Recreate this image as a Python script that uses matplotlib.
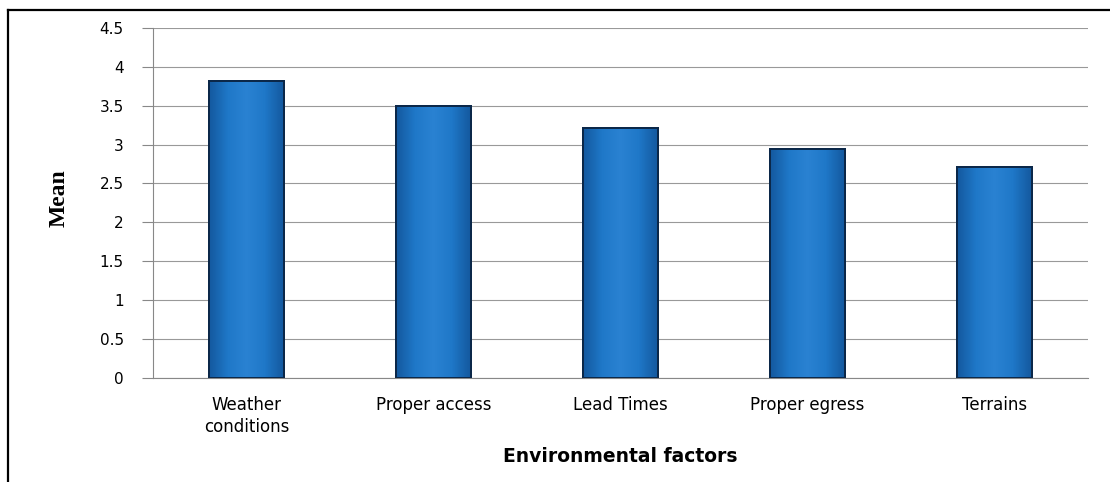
import matplotlib
matplotlib.use("Agg")
import matplotlib.pyplot as plt
import numpy as np
from matplotlib.lines import Line2D
from matplotlib.colors import LinearSegmentedColormap

categories = ["Weather\nconditions", "Proper access", "Lead Times", "Proper egress", "Terrains"]
means = [3.82, 3.50, 3.21, 2.94, 2.71]
yticks = [0, 0.5, 1, 1.5, 2, 2.5, 3, 3.5, 4, 4.5]
ytick_labels = ["0", "0.5", "1", "1.5", "2", "2.5", "3", "3.5", "4", "4.5"]

fig = plt.figure(figsize=(11.1, 4.82), dpi=100)
ax = fig.add_axes([0.1378, 0.2168, 0.8423, 0.7251])

x = np.arange(len(categories))
bars = ax.bar(x, means, width=0.40, color="#1e74c4", edgecolor="#0b2748", linewidth=1.4, zorder=3)

# horizontal shading inside each bar (dark edges, lighter centre)
cmap = LinearSegmentedColormap.from_list("barshade", ["#14599f", "#1f78c8", "#2a82d2", "#1f78c8", "#14599f"])
grad = np.linspace(0, 1, 64).reshape(1, -1)
for b in bars:
    x0, y0 = b.get_x(), b.get_y()
    w, h = b.get_width(), b.get_height()
    im = ax.imshow(grad, cmap=cmap, aspect="auto", extent=(x0, x0 + w, y0, y0 + h), zorder=3.5)
    im.set_clip_path(b)
    ax.bar(b.get_x() + w / 2, h, width=w, fill=False, edgecolor="#0b2748", linewidth=1.4, zorder=4)

ax.set_ylim(0, 4.5)
ax.set_xlim(-0.5, len(categories) - 0.5)
ax.set_yticks(yticks)
ax.set_yticklabels(ytick_labels, fontsize=11, family="DejaVu Sans")
ax.set_xticks(list(x))
ax.set_xticklabels(categories, fontsize=12, family="DejaVu Sans", linespacing=1.3)
ax.tick_params(axis="y", length=8, color="#888888", width=0.8, pad=13)
ax.tick_params(axis="x", length=0, pad=13)
ax.yaxis.grid(True, color="#999999", linewidth=0.8, zorder=0)
ax.set_axisbelow(True)
for s in ["top", "right"]:
    ax.spines[s].set_visible(False)
for s in ["left", "bottom"]:
    ax.spines[s].set_color("#888888")
    ax.spines[s].set_linewidth(0.8)

ax.set_xlabel("Environmental factors", fontsize=13.5, fontweight="bold", family="DejaVu Sans", labelpad=8)
fig.text(59 / 1110, 1 - 198 / 482, "Mean", rotation=90, fontsize=17, fontweight="bold",
         family="Liberation Serif", ha="center", va="center")

# outer frame (left and top edges)
fig.add_artist(Line2D([8 / 1110, 8 / 1110], [0, 1 - 10 / 482], transform=fig.transFigure,
                      color="black", linewidth=1.6))
fig.add_artist(Line2D([8 / 1110, 1], [1 - 10 / 482, 1 - 10 / 482], transform=fig.transFigure,
                      color="black", linewidth=1.6))

fig.savefig("out.png", dpi=100)
